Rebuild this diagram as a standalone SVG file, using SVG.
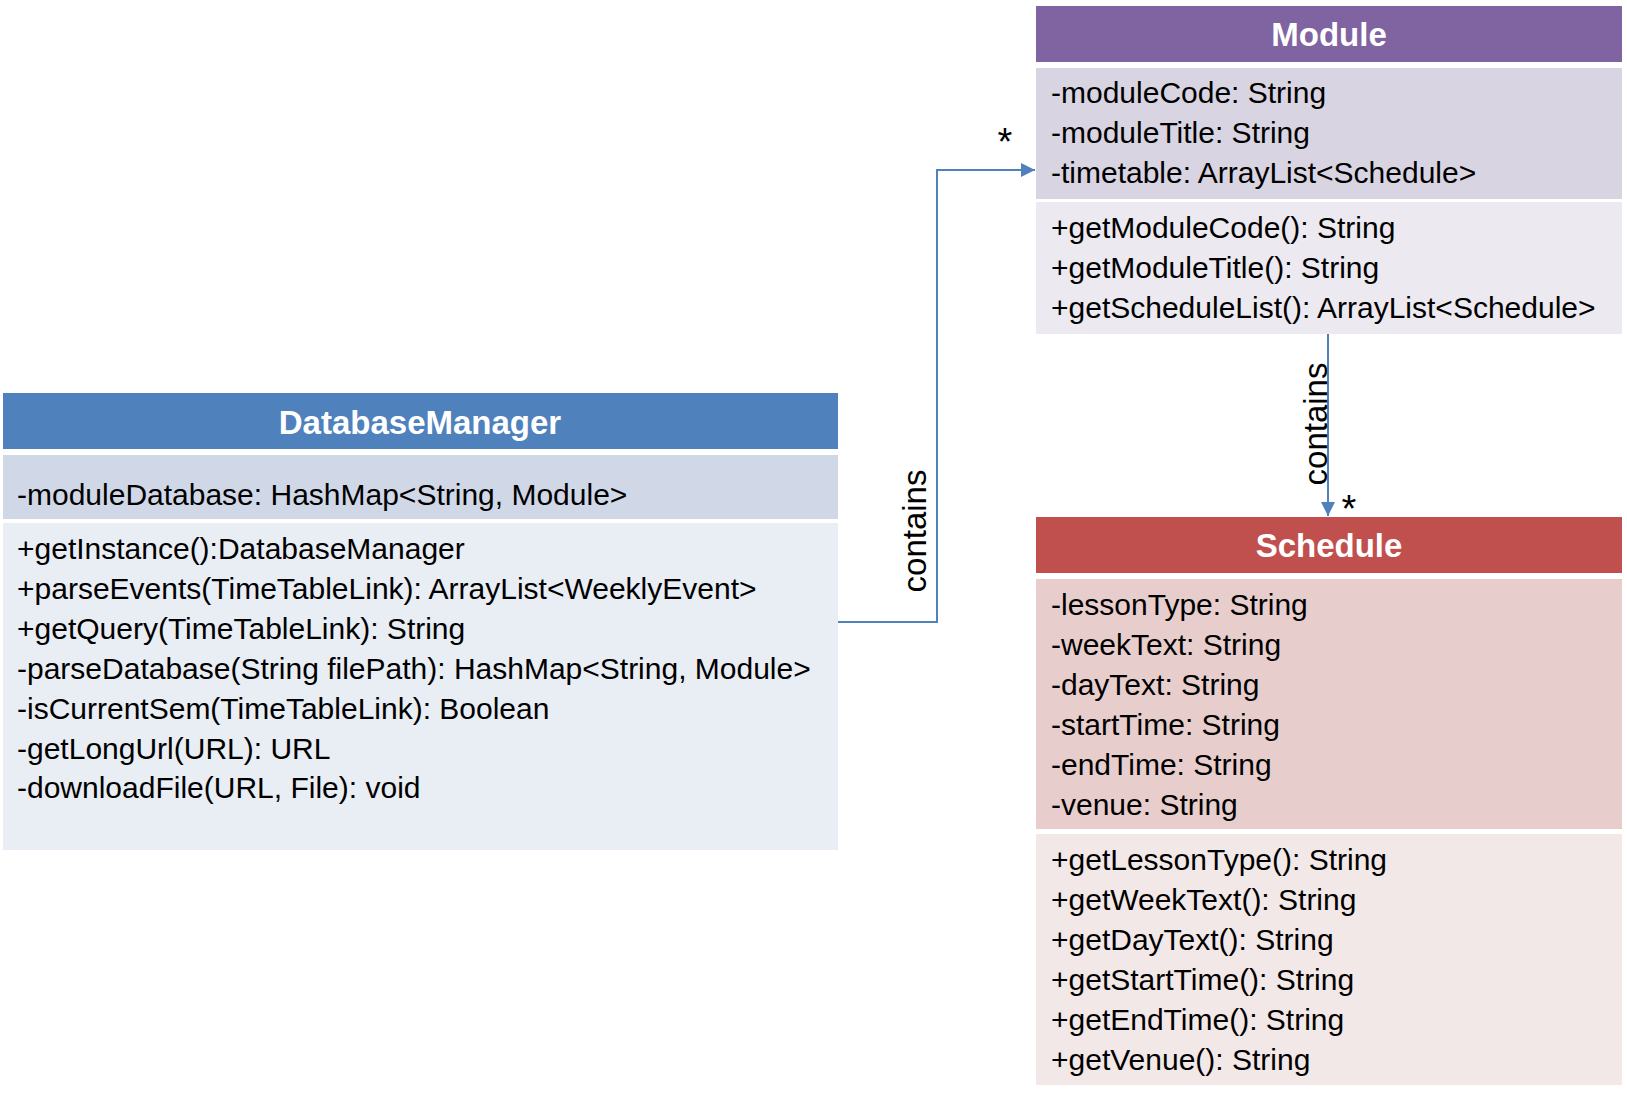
<svg xmlns="http://www.w3.org/2000/svg" width="1627" height="1099" viewBox="0 0 1627 1099">
<defs>
<style>
text{font-family:"Liberation Sans",Arial,sans-serif;fill:#000}
.t{font-size:30px}
.h{font-size:33px;font-weight:bold;fill:#fff;text-anchor:middle}
.lbl{font-size:33px;text-anchor:middle}
.star{font-size:38px;text-anchor:middle}
.conn{fill:none;stroke:#4F81BD;stroke-width:2}
</style>
<marker id="arr" markerUnits="userSpaceOnUse" markerWidth="14" markerHeight="14" viewBox="0 0 12 12" refX="12" refY="6" orient="auto">
<path d="M0,0 L12,6 L0,12 Z" fill="#4F81BD"/>
</marker>
</defs>
<rect width="1627" height="1099" fill="#fff"/>
<g id="DatabaseManager">
<rect x="3" y="393" width="835" height="56" fill="#4F81BD"/>
<rect x="3" y="455" width="835" height="64" fill="#D0D8E8"/>
<rect x="3" y="523" width="835" height="327" fill="#E9EDF4"/>
<text class="h" x="420" y="434">DatabaseManager</text>
<text class="t" x="17" y="505">-moduleDatabase: HashMap&lt;String, Module&gt;</text>
<text class="t" x="17" y="559">+getInstance():DatabaseManager</text>
<text class="t" x="17" y="599">+parseEvents(TimeTableLink): ArrayList&lt;WeeklyEvent&gt;</text>
<text class="t" x="17" y="639">+getQuery(TimeTableLink): String</text>
<text class="t" x="17" y="679">-parseDatabase(String filePath): HashMap&lt;String, Module&gt;</text>
<text class="t" x="17" y="719">-isCurrentSem(TimeTableLink): Boolean</text>
<text class="t" x="17" y="759">-getLongUrl(URL): URL</text>
<text class="t" x="17" y="798">-downloadFile(URL, File): void</text>
</g>
<g id="Module">
<rect x="1036" y="6" width="586" height="56" fill="#8064A2"/>
<rect x="1036" y="68" width="586" height="131" fill="#D8D4E2"/>
<rect x="1036" y="202" width="586" height="132" fill="#ECEAF0"/>
<text class="h" x="1329" y="46">Module</text>
<text class="t" x="1051" y="103">-moduleCode: String</text>
<text class="t" x="1051" y="143">-moduleTitle: String</text>
<text class="t" x="1051" y="183">-timetable: ArrayList&lt;Schedule&gt;</text>
<text class="t" x="1051" y="238">+getModuleCode(): String</text>
<text class="t" x="1051" y="278">+getModuleTitle(): String</text>
<text class="t" x="1051" y="318">+getScheduleList(): ArrayList&lt;Schedule&gt;</text>
</g>
<g id="Schedule">
<rect x="1036" y="517" width="586" height="56" fill="#C0504D"/>
<rect x="1036" y="579" width="586" height="250" fill="#E8CDCD"/>
<rect x="1036" y="834" width="586" height="251" fill="#F3E8E8"/>
<text class="h" x="1329" y="557">Schedule</text>
<text class="t" x="1051" y="615">-lessonType: String</text>
<text class="t" x="1051" y="655">-weekText: String</text>
<text class="t" x="1051" y="695">-dayText: String</text>
<text class="t" x="1051" y="735">-startTime: String</text>
<text class="t" x="1051" y="775">-endTime: String</text>
<text class="t" x="1051" y="815">-venue: String</text>
<text class="t" x="1051" y="870">+getLessonType(): String</text>
<text class="t" x="1051" y="910">+getWeekText(): String</text>
<text class="t" x="1051" y="950">+getDayText(): String</text>
<text class="t" x="1051" y="990">+getStartTime(): String</text>
<text class="t" x="1051" y="1030">+getEndTime(): String</text>
<text class="t" x="1051" y="1070">+getVenue(): String</text>
</g>
<g id="connectors">
<polyline class="conn" points="838,622 937,622 937,170 1035,170" marker-end="url(#arr)"/>
<text class="lbl" transform="translate(926,531) rotate(-90)">contains</text>
<text class="star" x="1005" y="155">*</text>
<line class="conn" x1="1328" y1="334" x2="1328" y2="516" marker-end="url(#arr)"/>
<text class="lbl" transform="translate(1327,424) rotate(-90)">contains</text>
<text class="star" x="1349" y="522">*</text>
</g>
</svg>
